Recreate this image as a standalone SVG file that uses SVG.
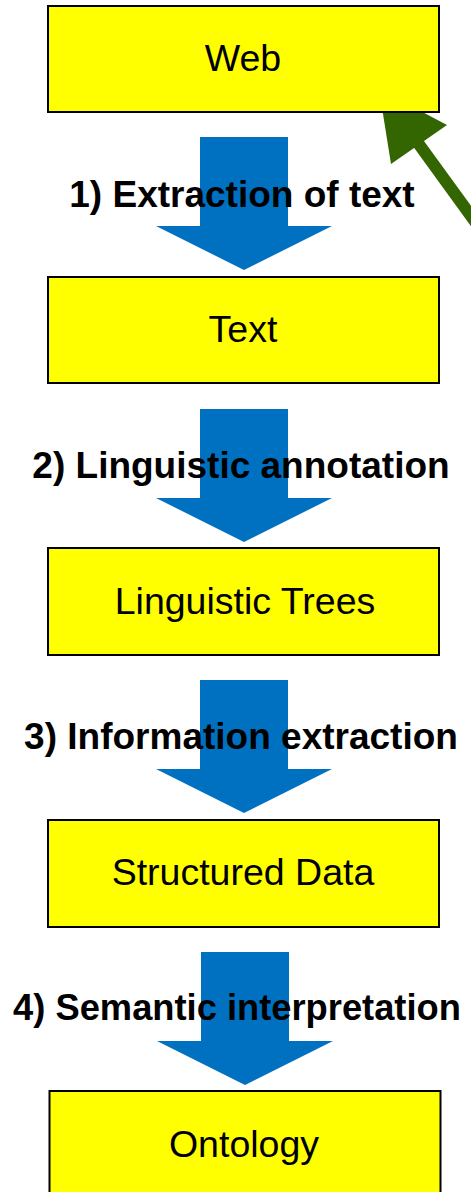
<svg xmlns="http://www.w3.org/2000/svg" width="471" height="1192" viewBox="0 0 471 1192">
<style>
.box{fill:#FFFF00;stroke:#000;stroke-width:2}
.bt{font-family:"Liberation Sans",Arial,sans-serif;font-size:37.5px;fill:#000;text-anchor:middle}
.lbl{font-family:"Liberation Sans",Arial,sans-serif;font-size:37px;font-weight:bold;fill:#000;text-anchor:middle}
.blue{fill:#0070C0}
</style>
<defs>
<polygon id="down" class="blue" points="200,0 288,0 288,89 332,89 244,133 156,89 200,89"/>
</defs>
<rect width="471" height="1192" fill="#fff"/>
<g id="connectors">
<use href="#down" x="0" y="137"/>
<use href="#down" x="0" y="409"/>
<use href="#down" x="0" y="680"/>
<use href="#down" x="1" y="952"/>
<line x1="418" y1="143" x2="495" y2="249" stroke="#336600" stroke-width="12"/>
<polygon points="379,89 447,125 391,164" fill="#336600"/>
</g>
<g id="label1"><text class="lbl" x="242" y="207">1) Extraction of text</text></g>
<g id="label2"><text class="lbl" x="241" y="478">2) Linguistic annotation</text></g>
<g id="label3"><text class="lbl" x="241" y="749">3) Information extraction</text></g>
<g id="label4"><text class="lbl" x="237" y="1020" style="font-size:36.3px">4) Semantic interpretation</text></g>
<g id="web"><rect class="box" x="48" y="6" width="391" height="106"/><text class="bt" x="243" y="71">Web</text></g>
<g id="text"><rect class="box" x="48" y="277" width="391" height="106"/><text class="bt" x="243" y="342">Text</text></g>
<g id="trees"><rect class="box" x="48" y="548" width="391" height="107"/><text class="bt" x="245" y="614">Linguistic Trees</text></g>
<g id="data"><rect class="box" x="48" y="820" width="391" height="107"/><text class="bt" x="243" y="885">Structured Data</text></g>
<g id="ontology"><rect class="box" x="49.5" y="1091" width="391" height="106"/><text class="bt" x="244" y="1157">Ontology</text></g>
</svg>
